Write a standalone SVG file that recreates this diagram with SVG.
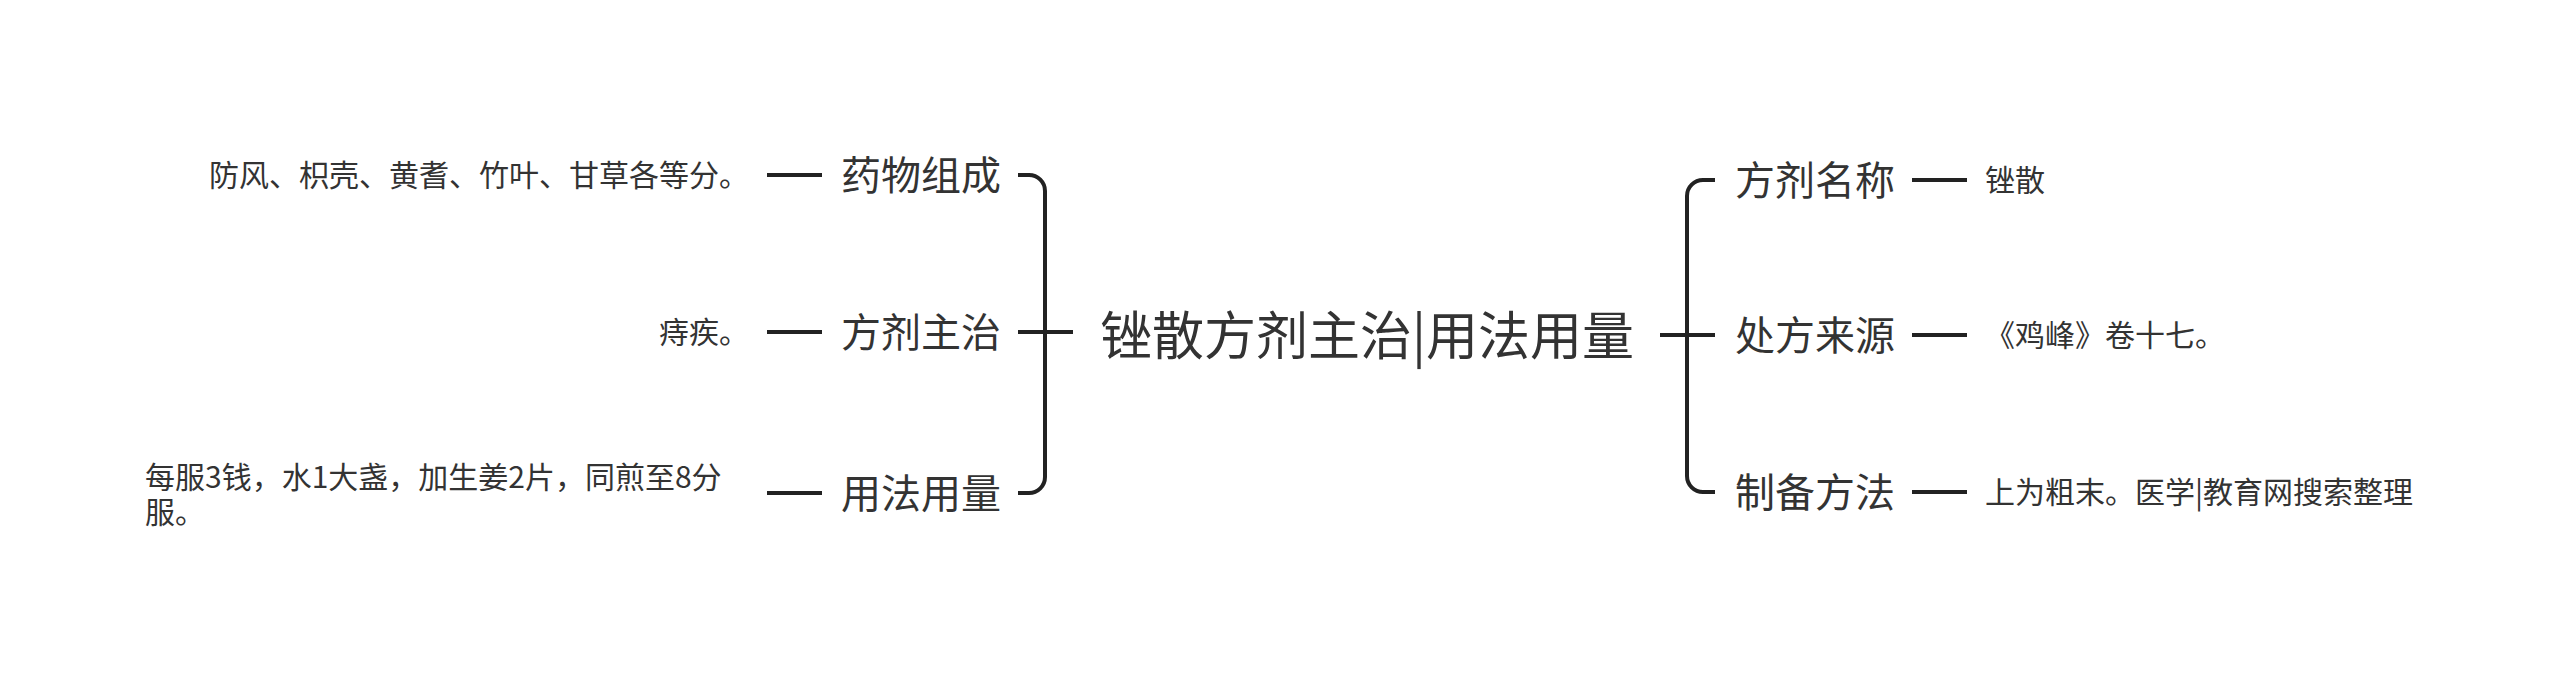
<svg xmlns="http://www.w3.org/2000/svg" width="2560" height="680" viewBox="0 0 2560 680">
<style>
text{font-family:"Noto Sans CJK SC","Noto Sans",sans-serif;fill:#333;dominant-baseline:central}
.c{font-size:52px}
.m{font-size:40px}
.s{font-size:30px}
.ln{fill:none;stroke:#222;stroke-width:4;stroke-linecap:butt}
</style>
<rect width="2560" height="680" fill="#fff"/>
<g id="connectors">
<path class="ln" d="M1018,175 H1029 A16,16 0 0 1 1045,191 V477 A16,16 0 0 1 1029,493 H1018"/>
<path class="ln" d="M1018,332 H1073"/>
<path class="ln" d="M1715,180 H1703 A16,16 0 0 0 1687,196 V476 A16,16 0 0 0 1703,492 H1715"/>
<path class="ln" d="M1660,335 H1715"/>
<path class="ln" d="M767,175 H822"/>
<path class="ln" d="M767,332 H822"/>
<path class="ln" d="M767,493 H822"/>
<path class="ln" d="M1912,180 H1967"/>
<path class="ln" d="M1912,335 H1967"/>
<path class="ln" d="M1912,492 H1967"/>
</g>
<g id="root"><text class="c" x="1367" y="332" text-anchor="middle">锉散方剂主治|用法用量</text></g>
<g id="n1"><text class="m" x="841" y="173">药物组成</text></g>
<g id="n1c"><text class="s" x="749" y="173" text-anchor="end">防风、枳壳、黄耆、竹叶、甘草各等分。</text></g>
<g id="n2"><text class="m" x="841" y="330">方剂主治</text></g>
<g id="n2c"><text class="s" x="749" y="330" text-anchor="end">痔疾。</text></g>
<g id="n3"><text class="m" x="841" y="491">用法用量</text></g>
<g id="n3c"><text class="s" x="145" y="475">每服3钱，水1大盏，加生姜2片，同煎至8分<tspan x="145" dy="35">服。</tspan></text></g>
<g id="n4"><text class="m" x="1735" y="178">方剂名称</text></g>
<g id="n4c"><text class="s" x="1985" y="178">锉散</text></g>
<g id="n5"><text class="m" x="1735" y="333">处方来源</text></g>
<g id="n5c"><text class="s" x="1985" y="333">《鸡峰》卷十七。</text></g>
<g id="n6"><text class="m" x="1735" y="490">制备方法</text></g>
<g id="n6c"><text class="s" x="1985" y="490">上为粗末。医学|教育网搜索整理</text></g>
</svg>
